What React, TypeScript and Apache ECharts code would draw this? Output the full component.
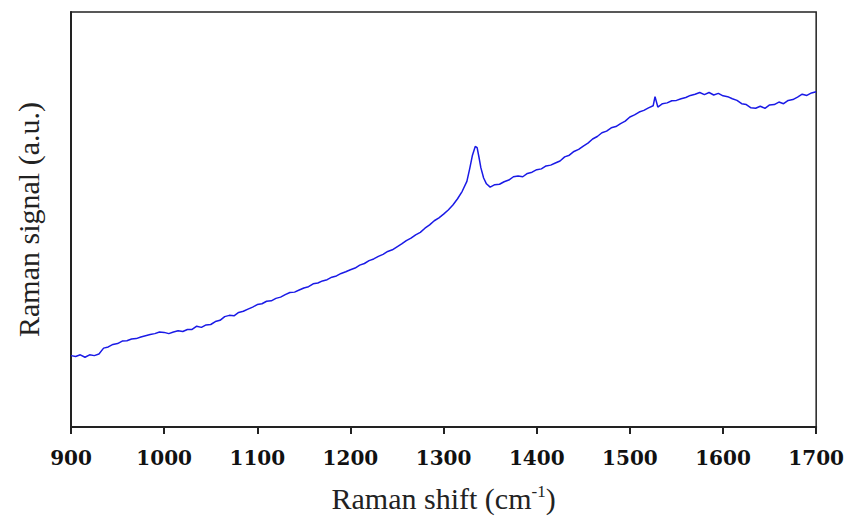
import React, { useEffect, useRef } from "react";
import * as echarts from "echarts";

const shift: number[] = [
  900, 905, 910, 915, 920, 925, 930, 935, 940, 945, 950, 955, 960, 965, 970, 975, 980, 985, 990, 995,
  1000, 1005, 1010, 1015, 1020, 1025, 1030, 1035, 1040, 1045, 1050, 1055, 1060, 1065, 1070, 1075, 1080, 1085, 1090, 1095,
  1100, 1105, 1110, 1115, 1120, 1125, 1130, 1135, 1140, 1145, 1150, 1155, 1160, 1165, 1170, 1175, 1180, 1185, 1190, 1195,
  1200, 1205, 1210, 1215, 1220, 1225, 1230, 1235, 1240, 1245, 1250, 1255, 1260, 1265, 1270, 1275, 1280, 1285, 1290, 1295,
  1300, 1305, 1310, 1315, 1320, 1325, 1328, 1331, 1334, 1336, 1338, 1340, 1343, 1346, 1350, 1355, 1360, 1365, 1370, 1375,
  1380, 1385, 1390, 1395, 1400, 1405, 1410, 1415, 1420, 1425, 1430, 1435, 1440, 1445, 1450, 1455, 1460, 1465, 1470, 1475,
  1480, 1485, 1490, 1495, 1500, 1505, 1510, 1515, 1520, 1525, 1527, 1530, 1535, 1540, 1545, 1550, 1555, 1560, 1565, 1570,
  1575, 1580, 1585, 1590, 1595, 1600, 1605, 1610, 1615, 1620, 1625, 1630, 1635, 1640, 1645, 1650, 1655, 1660, 1665, 1670,
  1675, 1680, 1685, 1690, 1695, 1700,
];

const signal: number[] = [
  17.2, 17.0, 17.4, 16.8, 17.4, 17.2, 17.6, 19.0, 19.3, 19.9, 20.1, 20.7, 20.8, 21.2, 21.3, 21.7, 22.0, 22.3, 22.5, 22.9,
  22.8, 22.5, 22.9, 23.2, 23.0, 23.5, 23.5, 24.3, 24.0, 24.6, 24.7, 25.4, 25.7, 26.6, 26.9, 26.8, 27.6, 27.9, 28.4, 28.9,
  29.5, 29.7, 30.3, 30.4, 31.0, 31.3, 31.9, 32.4, 32.5, 33.0, 33.5, 33.8, 34.5, 34.7, 35.2, 35.5, 36.1, 36.4, 37.0, 37.4,
  37.9, 38.3, 39.0, 39.4, 40.1, 40.5, 41.1, 41.6, 42.3, 42.7, 43.4, 44.1, 44.9, 45.5, 46.3, 46.9, 47.9, 48.7, 49.7, 50.4,
  51.3, 52.3, 53.5, 55.0, 56.8, 59.2, 62.2, 65.5, 67.6, 67.3, 65.0, 62.5, 60.0, 58.6, 57.8, 58.4, 58.5, 59.1, 59.5, 60.3,
  60.5, 60.3, 61.1, 61.4, 62.0, 62.2, 62.9, 63.1, 63.6, 64.1, 65.1, 65.5, 66.4, 66.9, 67.7, 68.4, 69.4, 70.0, 70.9, 71.3,
  72.1, 72.4, 73.1, 73.7, 74.7, 75.2, 75.9, 76.3, 76.9, 77.4, 79.6, 77.1, 77.9, 78.1, 78.6, 78.7, 79.1, 79.4, 79.9, 80.2,
  80.6, 80.1, 80.6, 80.0, 80.4, 79.8, 79.6, 79.1, 78.7, 77.9, 77.7, 76.9, 76.8, 77.3, 76.8, 77.6, 77.7, 78.3, 77.9, 78.7,
  78.9, 79.5, 80.2, 79.9, 80.5, 80.8,
];

const xTicks = { min: 900, max: 1700, interval: 100 };

export default function App() {
  const ref = useRef<HTMLDivElement>(null);
  useEffect(() => {
    if (!ref.current) return;
    const chart = echarts.init(ref.current, null, { renderer: "svg" });
    const data = shift.map((x, i) => [x, signal[i]]);
    chart.setOption({
      animation: false,
      backgroundColor: "#ffffff",
      grid: {
        left: 71,
        right: 30,
        top: 12,
        bottom: 91,
        show: true,
        borderColor: "#222",
        borderWidth: 1.5,
        backgroundColor: "transparent",
      },
      xAxis: {
        type: "value",
        min: xTicks.min,
        max: xTicks.max,
        interval: xTicks.interval,
        axisLine: { show: true, onZero: false, lineStyle: { color: "#222", width: 2 } },
        axisTick: { show: true, inside: false, length: 7, lineStyle: { color: "#222", width: 2 } },
        axisLabel: {
          margin: 21,
          color: "#111",
          fontFamily: "DejaVu Serif",
          fontWeight: "bold",
          fontSize: 20,
          formatter: (v: number) => String(v),
        },
        splitLine: { show: false },
        name: "Raman shift (cm{sup|-1})",
        nameLocation: "middle",
        nameGap: 56,
        nameTextStyle: {
          fontFamily: "Liberation Serif",
          fontSize: 30,
          color: "#222",
          rich: {
            sup: {
              fontFamily: "Liberation Serif",
              fontSize: 17,
              color: "#222",
              verticalAlign: "top",
              padding: [0, 0, 10, 0],
            },
          },
        },
      },
      yAxis: {
        type: "value",
        min: 0,
        max: 100,
        axisLine: { show: true, lineStyle: { color: "#222", width: 2 } },
        axisTick: { show: false },
        axisLabel: { show: false },
        splitLine: { show: false },
        name: "Raman signal (a.u.)",
        nameLocation: "middle",
        nameGap: 28,
        nameTextStyle: {
          fontFamily: "Liberation Serif",
          fontSize: 30,
          color: "#222",
        },
      },
      series: [
        {
          type: "line",
          data,
          showSymbol: false,
          symbol: "none",
          lineStyle: { color: "#1a1ae6", width: 1.5 },
        },
      ],
    });
    return () => chart.dispose();
  }, []);
  return <div ref={ref} style={{ width: 847, height: 518, position: "absolute", left: 0, top: 0 }} />;
}
